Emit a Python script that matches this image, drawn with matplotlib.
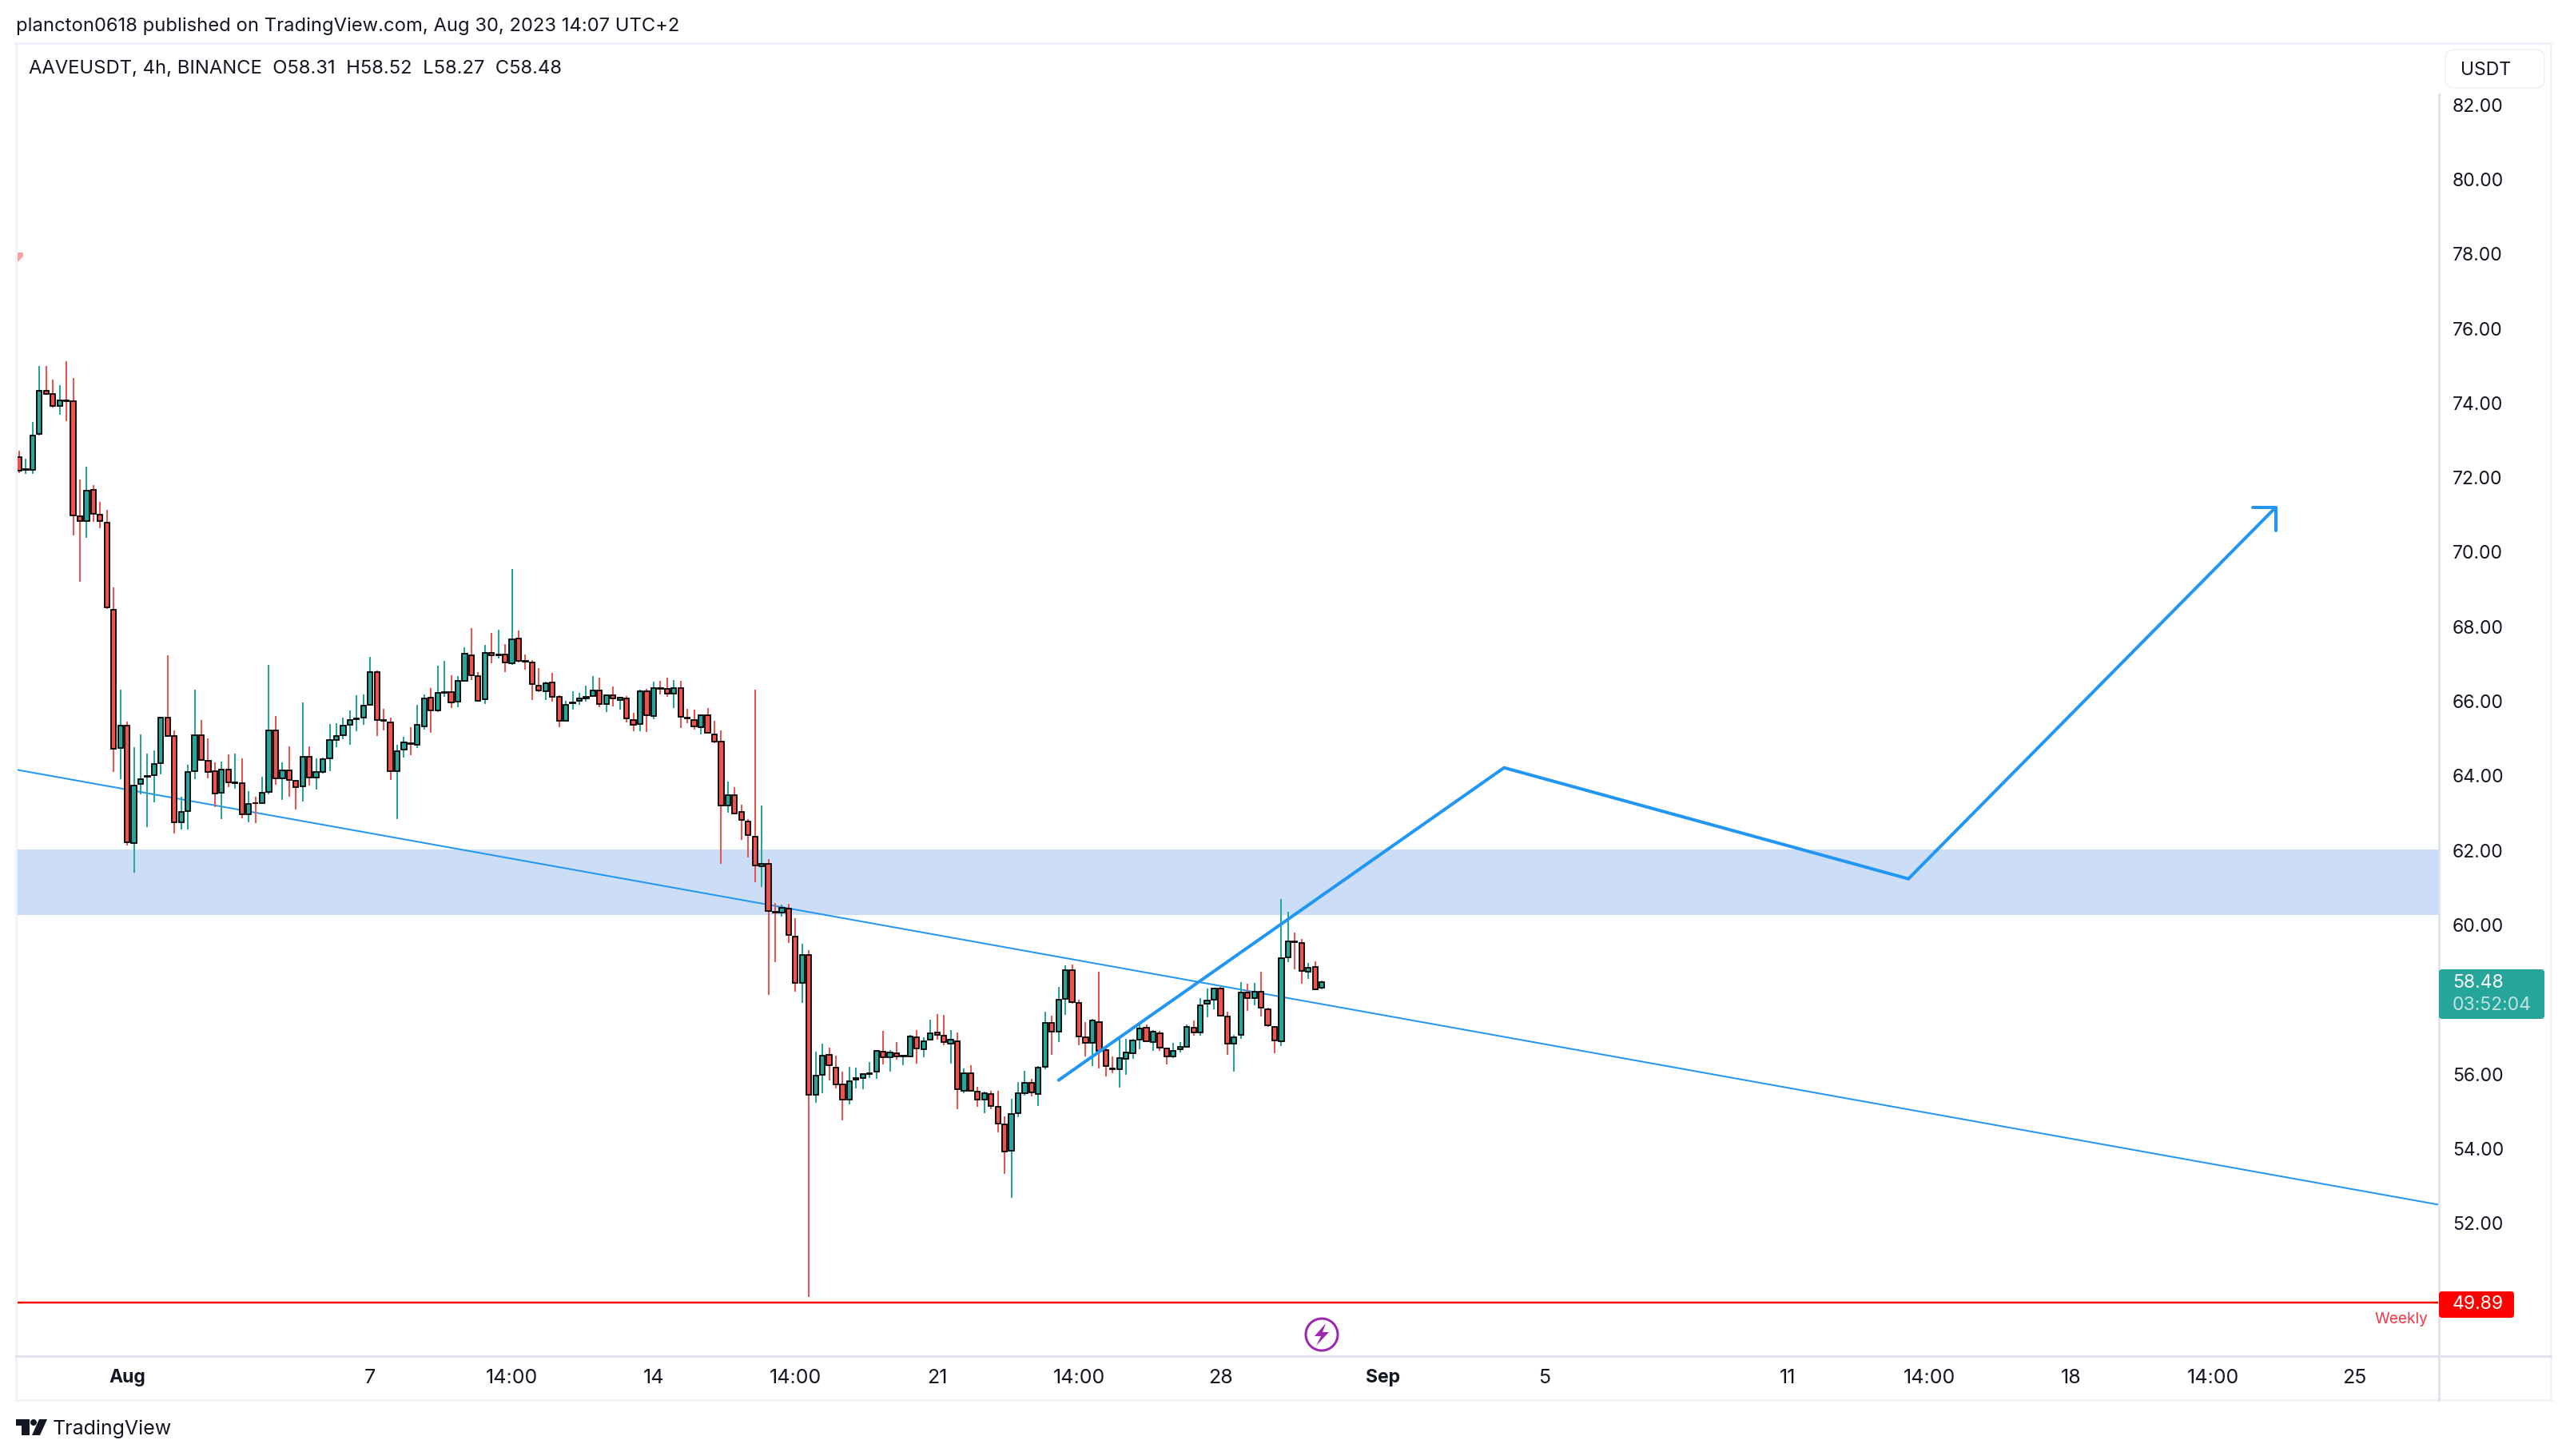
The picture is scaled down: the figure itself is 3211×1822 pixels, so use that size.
import matplotlib
matplotlib.use('Agg')
import matplotlib.pyplot as plt
from matplotlib.lines import Line2D
from matplotlib.patches import FancyBboxPatch, Polygon, Circle
from matplotlib.transforms import Affine2D

W = 3212
H = 1822

opens = [72.56, 72.20, 72.20, 73.17, 74.33, 74.25, 73.92, 74.08, 74.05, 70.97,
         70.84, 71.67, 71.01, 70.80, 68.46, 64.75, 65.34, 62.20, 63.78, 63.98,
         64.01, 64.35, 65.57, 65.06, 62.75, 63.06, 64.13, 65.09, 64.41, 64.13,
         63.55, 64.17, 63.81, 63.81, 62.97, 63.27, 63.26, 63.58, 65.22, 63.94,
         64.15, 63.87, 63.72, 64.51, 63.96, 64.11, 64.47, 64.96, 65.09, 65.37,
         65.52, 65.56, 65.91, 66.78, 65.49, 65.44, 64.12, 64.70, 64.87, 64.83,
         65.32, 66.09, 65.76, 66.23, 66.24, 65.99, 66.54, 67.24, 66.67, 66.06,
         67.31, 67.24, 67.26, 67.02, 67.69, 67.08, 67.04, 66.42, 66.27, 66.51,
         66.12, 65.48, 65.94, 66.01, 66.07, 66.14, 66.29, 65.93, 66.17, 66.04,
         66.08, 65.50, 65.39, 66.27, 65.61, 66.35, 66.34, 66.21, 66.36, 65.57,
         65.50, 65.31, 65.63, 65.12, 64.93, 63.20, 63.48, 63.03, 62.77, 62.37,
         61.58, 61.65, 60.36, 60.34, 60.45, 59.70, 58.44, 59.19, 55.44, 55.99,
         56.52, 56.18, 55.73, 55.31, 55.86, 55.89, 56.00, 56.08, 56.61, 56.46,
         56.57, 56.48, 56.48, 56.99, 56.67, 56.92, 57.13, 57.04, 56.82, 56.89,
         55.56, 56.03, 55.54, 55.31, 55.48, 55.12, 54.65, 53.95, 54.95, 55.50,
         55.77, 55.47, 56.20, 57.38, 57.14, 58.02, 58.79, 57.92, 57.00, 56.85,
         57.40, 56.65, 56.16, 56.14, 56.42, 56.57, 56.93, 57.25, 56.87, 57.10,
         56.69, 56.48, 56.67, 56.74, 57.25, 57.12, 57.89, 58.00, 58.30, 57.55,
         56.82, 57.06, 58.19, 58.04, 58.22, 57.74, 57.27, 56.89, 59.14, 59.57,
         59.52, 58.75, 58.88, 58.31]
highs = [72.72, 72.50, 73.49, 74.99, 74.99, 74.63, 74.48, 75.12, 74.67, 71.95,
         72.30, 71.80, 71.35, 71.13, 69.06, 66.31, 65.46, 64.77, 65.11, 64.60,
         64.68, 65.59, 67.24, 65.23, 63.44, 64.29, 66.31, 65.50, 65.01, 64.37,
         64.39, 64.58, 64.60, 64.47, 63.60, 63.44, 63.98, 66.98, 65.60, 64.37,
         64.80, 63.87, 65.97, 64.79, 64.47, 64.49, 65.39, 65.42, 65.57, 65.75,
         66.16, 66.19, 67.19, 66.83, 65.80, 65.57, 64.83, 65.05, 65.31, 65.91,
         66.18, 66.36, 66.96, 67.09, 66.70, 66.68, 67.45, 67.97, 66.79, 67.52,
         67.84, 67.92, 67.54, 69.55, 67.90, 67.26, 67.11, 66.89, 66.52, 66.77,
         66.17, 66.02, 66.27, 66.23, 66.42, 66.68, 66.64, 66.17, 66.40, 66.12,
         66.14, 65.69, 66.32, 66.34, 66.53, 66.55, 66.64, 66.57, 66.55, 65.80,
         65.78, 65.63, 65.82, 65.48, 65.23, 63.84, 63.69, 63.22, 62.84, 66.32,
         63.21, 61.77, 60.60, 60.54, 60.57, 60.19, 59.49, 59.33, 56.61, 56.81,
         56.71, 56.50, 56.08, 56.20, 56.18, 56.01, 56.33, 56.63, 57.16, 56.65,
         56.87, 56.52, 57.05, 57.18, 56.99, 57.46, 57.62, 57.60, 57.18, 57.13,
         56.15, 56.24, 55.66, 55.54, 55.56, 55.56, 54.88, 55.35, 55.80, 56.10,
         55.88, 56.22, 57.68, 57.57, 58.34, 58.92, 58.94, 58.00, 57.40, 57.49,
         58.75, 56.70, 56.48, 56.95, 56.95, 56.95, 57.34, 57.34, 57.19, 57.17,
         56.69, 56.85, 56.87, 57.34, 57.45, 58.04, 58.30, 58.32, 58.34, 57.68,
         57.06, 58.47, 58.43, 58.45, 58.75, 57.79, 57.27, 60.70, 60.36, 59.80,
         59.63, 58.99, 59.03, 58.52]
lows = [72.13, 72.09, 72.09, 73.13, 74.23, 73.88, 73.69, 73.51, 70.46, 69.21,
        70.38, 70.82, 70.64, 68.47, 64.11, 63.91, 62.14, 61.41, 63.51, 62.63,
        63.29, 64.04, 65.07, 62.45, 62.56, 62.56, 63.91, 64.43, 63.93, 63.16,
        62.85, 63.70, 63.65, 62.86, 62.76, 62.73, 63.26, 63.51, 63.76, 63.36,
        63.44, 63.10, 63.32, 63.75, 63.64, 64.06, 64.13, 64.77, 64.98, 64.83,
        65.20, 65.38, 65.91, 65.08, 65.21, 63.89, 62.85, 64.50, 64.56, 64.74,
        65.25, 65.16, 65.72, 66.13, 65.83, 65.85, 66.54, 66.57, 66.02, 65.93,
        67.02, 67.15, 66.79, 66.98, 67.04, 66.85, 66.04, 66.25, 66.04, 66.00,
        65.31, 65.48, 65.78, 65.91, 66.00, 66.14, 65.85, 65.71, 65.87, 65.78,
        65.44, 65.20, 65.20, 65.18, 65.52, 66.19, 66.12, 65.82, 65.29, 65.42,
        65.25, 65.12, 65.16, 64.88, 61.64, 63.01, 63.00, 62.28, 61.81, 61.15,
        61.03, 58.12, 59.00, 60.22, 59.52, 58.21, 57.91, 50.03, 55.24, 55.49,
        55.84, 55.61, 54.77, 55.19, 55.61, 55.59, 55.89, 55.87, 56.27, 56.06,
        56.40, 56.24, 56.48, 56.29, 56.46, 56.92, 56.92, 56.78, 56.29, 55.07,
        55.49, 55.53, 55.13, 54.95, 55.07, 54.44, 53.32, 52.69, 54.85, 55.42,
        55.40, 55.15, 56.14, 56.52, 56.87, 57.59, 57.89, 56.78, 56.48, 56.22,
        56.16, 55.94, 56.03, 55.64, 55.99, 56.42, 56.67, 56.89, 56.63, 56.63,
        56.27, 56.44, 56.59, 56.74, 57.04, 57.04, 57.53, 57.74, 57.57, 56.52,
        56.07, 56.95, 57.70, 57.85, 57.55, 57.27, 56.57, 56.76, 59.01, 58.82,
        58.43, 58.56, 58.28, 58.27]
closes = [72.18, 72.22, 73.13, 74.33, 74.24, 73.92, 74.07, 74.06, 70.98, 70.84,
          71.65, 71.03, 70.84, 68.52, 64.73, 65.34, 62.22, 63.75, 63.91, 64.00,
          64.32, 65.57, 65.07, 62.75, 63.04, 64.11, 65.09, 64.43, 64.11, 63.53,
          64.17, 63.83, 63.83, 62.97, 63.25, 63.26, 63.55, 65.22, 63.94, 64.15,
          63.90, 63.70, 64.51, 63.96, 64.11, 64.45, 64.96, 65.07, 65.35, 65.49,
          65.54, 65.89, 66.78, 65.50, 65.47, 64.12, 64.66, 64.90, 64.85, 65.36,
          66.07, 65.76, 66.22, 66.25, 65.97, 66.56, 67.27, 66.70, 66.02, 67.30,
          67.24, 67.26, 67.04, 67.67, 67.09, 67.06, 66.47, 66.29, 66.49, 66.12,
          65.48, 65.91, 65.98, 66.07, 66.13, 66.29, 65.93, 66.17, 66.08, 66.10,
          65.54, 65.37, 66.27, 65.63, 66.36, 66.34, 66.21, 66.36, 65.59, 65.55,
          65.33, 65.63, 65.16, 64.92, 63.20, 63.48, 63.00, 62.81, 62.42, 61.60,
          61.65, 60.38, 60.34, 60.47, 59.73, 58.44, 59.19, 55.44, 55.96, 56.50,
          56.24, 55.73, 55.31, 55.82, 55.89, 56.01, 56.02, 56.63, 56.46, 56.59,
          56.48, 56.50, 57.01, 56.69, 56.89, 57.10, 57.06, 56.86, 56.92, 55.59,
          56.03, 55.56, 55.31, 55.50, 55.14, 54.67, 53.92, 54.93, 55.50, 55.77,
          55.52, 56.18, 57.38, 57.14, 58.00, 58.79, 57.94, 57.02, 56.85, 57.45,
          56.63, 56.22, 56.13, 56.44, 56.59, 56.91, 57.23, 56.89, 57.14, 56.72,
          56.48, 56.63, 56.74, 57.27, 57.12, 57.85, 57.98, 58.30, 57.57, 56.82,
          57.00, 58.19, 58.04, 58.22, 57.79, 57.32, 56.91, 59.12, 59.57, 59.54,
          58.77, 58.86, 58.28, 58.48]

price_ticks = [82, 80, 78, 76, 74, 72, 70, 68, 66, 64, 62, 60, 56, 54, 52]
time_pos = [16, 52, 73, 94, 115, 136, 157, 178, 202, 226, 262, 283, 304, 325, 346]
time_labels = ['Aug', '7', '14:00', '14', '14:00', '21', '14:00', '28', 'Sep', '5',
               '11', '14:00', '18', '14:00', '25']
bold_labels = ['Aug', 'Sep']

# drawings, x in bars, y in price
trend_x = [-0.5, 358.5]
trend_y = [64.17, 52.50]
path_x = [154, 220, 279.9, 334.3]
path_y = [55.84, 64.22, 61.24, 71.2]
arrow_x = [330.9, 334.3, 334.3]
arrow_y = [71.2, 71.2, 70.58]
zone_top = 62.02
zone_bottom = 60.26
weekly_level = 49.87

GREEN = '#26a69a'
RED = '#ef5350'
BLUE = '#2196f3'
TEXT = '#131722'
FONT = 'Inter'
px = 0.72  # points per pixel at dpi 100


def fx(x):
    return x / W


def fy(y):
    return 1 - y / H


def hline(fig, x0, x1, y, color, lw):
    fig.add_artist(Line2D([fx(x0), fx(x1)], [fy(y), fy(y)], color=color, lw=lw * px))


def vline(fig, x, y0, y1, color, lw):
    fig.add_artist(Line2D([fx(x), fx(x)], [fy(y0), fy(y1)], color=color, lw=lw * px))


def label(fig, x, y, s, size=23, color=TEXT, ha='left', weight='normal'):
    t = fig.text(fx(x), fy(y), s, fontsize=size * px, color=color, ha=ha, va='center',
                 family=FONT, weight=weight)
    t.set_zorder(7)


# figure pixels, y going down
pix = Affine2D().scale(1, -1).translate(0, H)


def box(fig, x0, y0, x1, y1, fc, ec='none', lw=0, r=4):
    p = FancyBboxPatch((x0 + r, y0 + r), x1 - x0 - 2 * r, y1 - y0 - 2 * r,
                       boxstyle='round,pad=%d,rounding_size=%d' % (r, r),
                       transform=pix, fc=fc, ec=ec, lw=lw * px, zorder=6)
    fig.add_artist(p)


fig = plt.figure(figsize=(W / 100, H / 100), dpi=100, facecolor='white')
ax = fig.add_axes([fx(20), fy(1697), (3052 - 20) / W, (1697 - 55) / H])
ax.set_xlim(-0.47, 358.5)
ax.set_ylim(48.44, 83.63)
for s in ax.spines.values():
    s.set_visible(False)

ax.axhspan(zone_bottom, zone_top, color='#ccddf8', lw=0, zorder=1)
ax.plot(trend_x, trend_y, color=BLUE, lw=2 * px, zorder=2)
ax.axhline(weekly_level, color='#ff0000', lw=2.5 * px, zorder=2)

for i in range(len(opens)):
    if closes[i] >= opens[i]:
        c = GREEN
    else:
        c = RED
    ax.vlines(i, lows[i], highs[i], color=c, lw=2 * px, zorder=3)
    ax.bar(i, abs(closes[i] - opens[i]), bottom=min(opens[i], closes[i]), width=0.74,
           color=c, edgecolor='black', linewidth=1.8 * px, zorder=4)

ax.plot(path_x, path_y, color=BLUE, lw=4 * px, zorder=5, solid_capstyle='round',
        solid_joinstyle='miter')
ax.plot(arrow_x, arrow_y, color=BLUE, lw=4 * px, zorder=5, solid_capstyle='round',
        solid_joinstyle='round')

ax.yaxis.tick_right()
ax.tick_params(axis='y', length=0, pad=17 * px, labelsize=23 * px, labelcolor=TEXT,
               labelfontfamily=FONT)
ax.set_yticks(price_ticks)
ax.set_yticklabels(['%.2f' % p for p in price_ticks])
for tick in ax.yaxis.get_major_ticks():
    tick.label2.set_horizontalalignment('left')
ax.tick_params(axis='x', length=0, pad=16 * px, labelsize=25 * px, labelcolor=TEXT,
               labelfontfamily=FONT)
ax.set_xticks(time_pos)
ax.set_xticklabels(time_labels)
for t in ax.get_xticklabels():
    if t.get_text() in bold_labels:
        t.set_fontweight('bold')
        t.set_fontsize(23 * px)

# frame around the chart
border = '#f0f3fa'
hline(fig, 19, 3193, 54, border, 3)
hline(fig, 19, 3193, 1752, border, 3)
vline(fig, 20, 54, 1752, border, 3)
vline(fig, 3192, 54, 1752, border, 3)
hline(fig, 20, 3192, 1697, '#e0e3eb', 3)
vline(fig, 3052, 118, 1752, '#e0e3eb', 3)

box(fig, 3060, 62, 3184, 110, 'white', border, 2, 12)
label(fig, 3079, 88, 'USDT')
box(fig, 3052, 1213, 3184, 1275, GREEN)
label(fig, 3069, 1230, '58.48', color='white')
label(fig, 3069, 1258, '03:52:04', color='#bfe4e0')
box(fig, 3052, 1616, 3146, 1649, '#ff0000')
label(fig, 3069, 1632, '49.89', color='white')
label(fig, 3038, 1651, 'Weekly', size=19, color='#f23645', ha='right')

label(fig, 20, 33, 'plancton0618 published on TradingView.com, Aug 30, 2023 14:07 UTC+2', size=23.8)
label(fig, 36, 86, 'AAVEUSDT, 4h, BINANCE  O58.31  H58.52  L58.27  C58.48', size=23.8)
label(fig, 66, 1788, 'TradingView', size=25)

# small shapes, in pixels
fig.add_artist(Polygon([(21, 316), (29, 316), (29, 321), (21, 329)], transform=pix,
                       fc='#f8a1a8', ec='none'))
fig.add_artist(Circle((1654, 1670), 20, transform=pix, fc='white', ec='#9c27b0', lw=3 * px))
fig.add_artist(Polygon([(1659, 1656), (1645, 1672), (1653, 1672), (1647, 1684), (1663, 1667),
                        (1655, 1667)], transform=pix, fc='#9c27b0', ec='none'))
# logo
fig.add_artist(Polygon([(20, 1776), (37, 1776), (37, 1796), (27, 1796), (27, 1784), (20, 1784)],
                       transform=pix, fc=TEXT, ec='none'))
fig.add_artist(Circle((42, 1780), 4, transform=pix, fc=TEXT, ec='none'))
fig.add_artist(Polygon([(49, 1776), (59, 1776), (50, 1796), (40, 1796)], transform=pix,
                       fc=TEXT, ec='none'))

fig.savefig('out.png', dpi=100)
